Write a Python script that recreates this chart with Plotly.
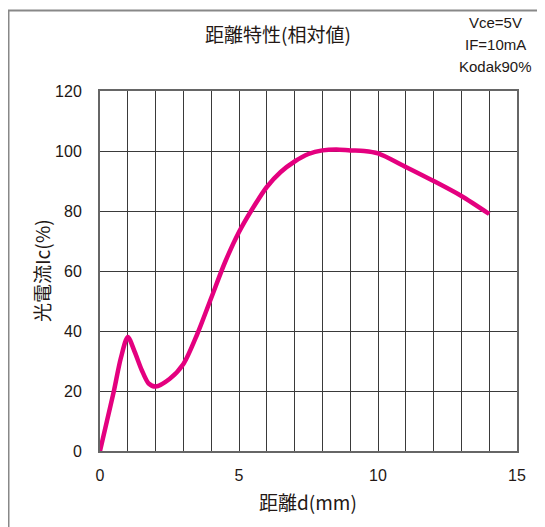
import plotly.graph_objects as go

distance_mm = [0, 0.25, 0.5, 0.75, 1.0, 1.25, 1.5, 1.75, 2.0, 2.5, 3, 3.5, 4, 4.5, 5, 5.5, 6, 6.5, 7, 7.5, 8, 8.5, 9, 9.5, 10, 11, 12, 13, 14]
ic_percent = [0, 10, 20, 31, 38, 33, 27, 22.5, 21.5, 24, 29, 39, 51, 63, 73, 81, 88, 93, 96.5, 99, 100.2, 100.5, 100.2, 100, 99.2, 94.7, 90, 85, 79]

x_ticks = [0, 5, 10, 15]
y_ticks = [0, 20, 40, 60, 80, 100, 120]

title_text = "距離特性(相対値)"
x_title = "距離d(mm)"
y_title = "光電流Ic(%)"
conditions = ["Vce=5V", "IF=10mA", "Kodak90%"]

FONT = "Liberation Sans, Noto Sans CJK JP, sans-serif"
CJK = "Noto Sans CJK JP, sans-serif"
GRID = "#3a3a3a"
INK = "#231815"

W, H = 545, 527
L, R, T, B = 92, 36, 83, 84
PW, PH = W - L - R, H - T - B


def px(xs):
    return (xs - 8 - L) / PW


def py(ys):
    return (H - B + 8 - ys) / PH


fig = go.Figure()
fig.add_trace(go.Scatter(
    x=distance_mm, y=ic_percent, mode="lines",
    line=dict(color="#E4007F", width=4.5, shape="spline", smoothing=0.8),
    showlegend=False,
))

annotations = [
    dict(text=title_text, x=px(278), y=py(34), xanchor="center", yanchor="middle",
         font=dict(size=19, family=CJK)),
    dict(text=x_title, x=px(308), y=py(501), xanchor="center", yanchor="middle",
         font=dict(size=19, family=CJK)),
    dict(text=y_title, x=px(41), y=py(271), xanchor="center", yanchor="middle",
         textangle=-90, font=dict(size=19, family=CJK)),
]
for txt, ys in zip(conditions, [22, 44.5, 66.5]):
    annotations.append(dict(text=txt, x=px(495), y=py(ys), xanchor="center", yanchor="middle",
                            font=dict(size=15, family=FONT)))
for a in annotations:
    a.update(xref="paper", yref="paper", showarrow=False)

fig.update_layout(
    width=W, height=H,
    margin=dict(l=L, r=R, t=T, b=B),
    paper_bgcolor="white", plot_bgcolor="white",
    font=dict(family=FONT, size=16, color=INK),
    xaxis=dict(
        range=[0, 15], tickvals=x_ticks, ticks="", showgrid=True,
        gridcolor=GRID, gridwidth=1,
        showline=True, linecolor="#666", linewidth=2, mirror=True,
        zeroline=False, ticklabelstandoff=9,
        minor=dict(dtick=1, showgrid=True, gridcolor=GRID, gridwidth=1),
    ),
    yaxis=dict(
        range=[0, 120], tickvals=y_ticks, ticks="", showgrid=True,
        gridcolor=GRID, gridwidth=1,
        showline=True, linecolor="#666", linewidth=2, mirror=True,
        zeroline=False, ticklabelstandoff=13,
    ),
    annotations=annotations,
    shapes=[
        dict(type="rect", xref="paper", yref="paper", x0=px(8.5), x1=1.3, y0=-0.4, y1=py(10.5),
             line=dict(color="#888", width=2), fillcolor="rgba(0,0,0,0)", layer="below"),
    ],
)

fig.write_html("out.html")
